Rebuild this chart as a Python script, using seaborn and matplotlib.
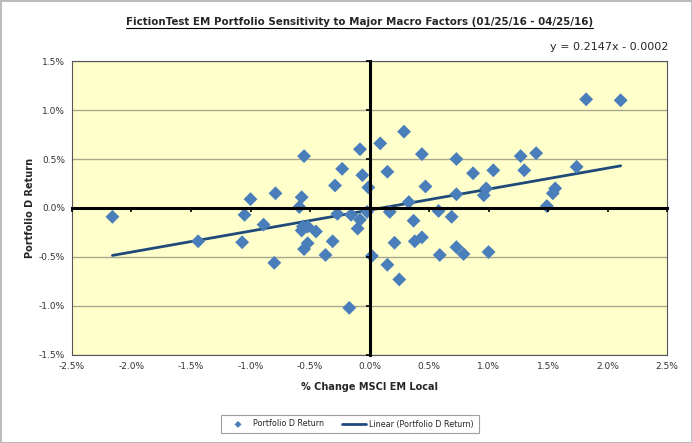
import numpy as np
import pandas as pd
import matplotlib
matplotlib.use('Agg')
import matplotlib.pyplot as plt
from matplotlib.lines import Line2D
from matplotlib.ticker import FuncFormatter
import seaborn as sns

# === DATA (daily % changes) ===
msci_em_local = [-2.16, -1.44, -1.07, -1.05, -1.00, -0.89, -0.79, -0.80, -0.59, -0.57,
                 -0.55, -0.56, -0.52, -0.57, -0.45, -0.52, -0.55, -0.31, -0.37, -0.29,
                 -0.27, -0.23, -0.17, -0.155, -0.10, -0.08, -0.08, -0.06, -0.02, -0.01,
                 0.02, 0.09, 0.29, 0.15, 0.44, 0.47, 0.33, 0.73, 0.73, 0.87,
                 1.04, 0.96, 0.98, 0.17, 0.58, 0.69, 0.37, 0.21, 0.38, 0.44,
                 0.15, 0.25, 0.59, 0.73, 0.79, 1.00, 1.49, 1.56, 1.54, 1.74,
                 1.82, 2.11, 1.27, 1.40, 1.30]
portfolio_d = [-0.09, -0.34, -0.35, -0.07, 0.09, -0.17, 0.15, -0.56, 0.01, 0.11,
               0.53, -0.19, -0.19, -0.23, -0.24, -0.36, -0.42, -0.34, -0.48, 0.23,
               -0.06, 0.40, -1.02, -0.07, -0.21, -0.12, 0.60, 0.335, -0.04, 0.21,
               -0.49, 0.66, 0.78, 0.37, 0.55, 0.22, 0.06, 0.50, 0.14, 0.355,
               0.385, 0.13, 0.20, -0.04, -0.03, -0.09, -0.13, -0.355, -0.34, -0.30,
               -0.58, -0.73, -0.48, -0.40, -0.47, -0.45, 0.02, 0.20, 0.15, 0.42,
               1.11, 1.10, 0.53, 0.56, 0.385]

title = 'FictionTest EM Portfolio Sensitivity to Major Macro Factors (01/25/16 - 04/25/16)'
equation = 'y = 0.2147x - 0.0002'
x_ticks = np.arange(-2.5, 2.51, 0.5)
y_ticks = np.arange(-1.5, 1.51, 0.5)

df = pd.DataFrame({'x': msci_em_local, 'y': portfolio_d})

# === STYLE ===
sns.set_theme(style='white')
plt.rcParams['font.family'] = ['DejaVu Sans']

blue = '#4A7EBB'
navy = '#1F4A7A'
pos = [0.104, 0.199, 0.860, 0.663]

fig = plt.figure(figsize=(6.92, 4.43), dpi=100)
ax = fig.add_axes(pos)
ax.set_facecolor('#FFFFCC')

sns.scatterplot(data=df, x='x', y='y', ax=ax, marker='D', s=50, color=blue,
                edgecolor='none', label='Portfolio D Return', zorder=4)
sns.regplot(data=df, x='x', y='y', ax=ax, scatter=False, ci=None, truncate=True,
            label='Linear (Portfolio D Return)',
            line_kws={'color': navy, 'lw': 2.0, 'zorder': 3})

ax.set_xlim(-2.5, 2.5)
ax.set_ylim(-1.5, 1.5)
fmt = FuncFormatter(lambda v, p: f'{np.round(v, 2) + 0.0:.1f}%')
ax.set_xticks(x_ticks)
ax.set_yticks(y_ticks)
ax.xaxis.set_major_formatter(fmt)
ax.yaxis.set_major_formatter(fmt)
ax.tick_params(length=0, labelsize=6.5, labelcolor='#333333', pad=5)
ax.grid(axis='y', color='#A8A890', lw=1)
ax.grid(axis='x', visible=False)
for s in ax.spines.values():
    s.set_color('#555555')
    s.set_linewidth(0.8)

ax.set_xlabel('% Change MSCI EM Local', fontsize=7, fontweight='bold', labelpad=8)
ax.set_ylabel('Portfolio D Return', fontsize=7, fontweight='bold', labelpad=3)

# zero axes with tick marks (Excel style crossing axes) on a transparent overlay
zax = fig.add_axes(pos)
zax.patch.set_visible(False)
zax.set_xlim(-2.5, 2.5)
zax.set_ylim(-1.5, 1.5)
zax.set_xticks(x_ticks)
zax.set_yticks(y_ticks)
zax.spines['left'].set_position(('data', 0))
zax.spines['bottom'].set_position(('data', 0))
zax.spines['top'].set_visible(False)
zax.spines['right'].set_visible(False)
for side in ['left', 'bottom']:
    zax.spines[side].set_linewidth(2.2)
    zax.spines[side].set_color('black')
zax.tick_params(direction='out', length=3, width=1.2, color='black',
                left=True, bottom=True, labelleft=False, labelbottom=False)
zax.grid(False)

leg = ax.legend(loc='center', bbox_to_anchor=(350 / 692, 19 / 443),
                bbox_transform=fig.transFigure, ncol=2, fontsize=5.8, frameon=True,
                fancybox=False, markerscale=0.5, handlelength=3.0, columnspacing=2.2,
                handletextpad=0.4, borderpad=0.6)
leg.get_frame().set_edgecolor('#888888')
leg.get_frame().set_linewidth(0.8)

t = fig.text(359.5 / 692, 1 - 22 / 443, title, ha='center', va='center',
             fontsize=7.4, fontweight='bold')
fig.text(668 / 692, 1 - 47 / 443, equation, ha='right', va='center', fontsize=8)

# underline the title
fig.canvas.draw()
bb = t.get_window_extent()
fig.add_artist(Line2D([bb.x0, bb.x1], [bb.y0 - 1, bb.y0 - 1], color='black', lw=0.8,
                      transform=None))

fig.patch.set_edgecolor('#BBBBBB')
fig.patch.set_linewidth(2)

fig.savefig('out.png', dpi=100, edgecolor=fig.get_edgecolor())
